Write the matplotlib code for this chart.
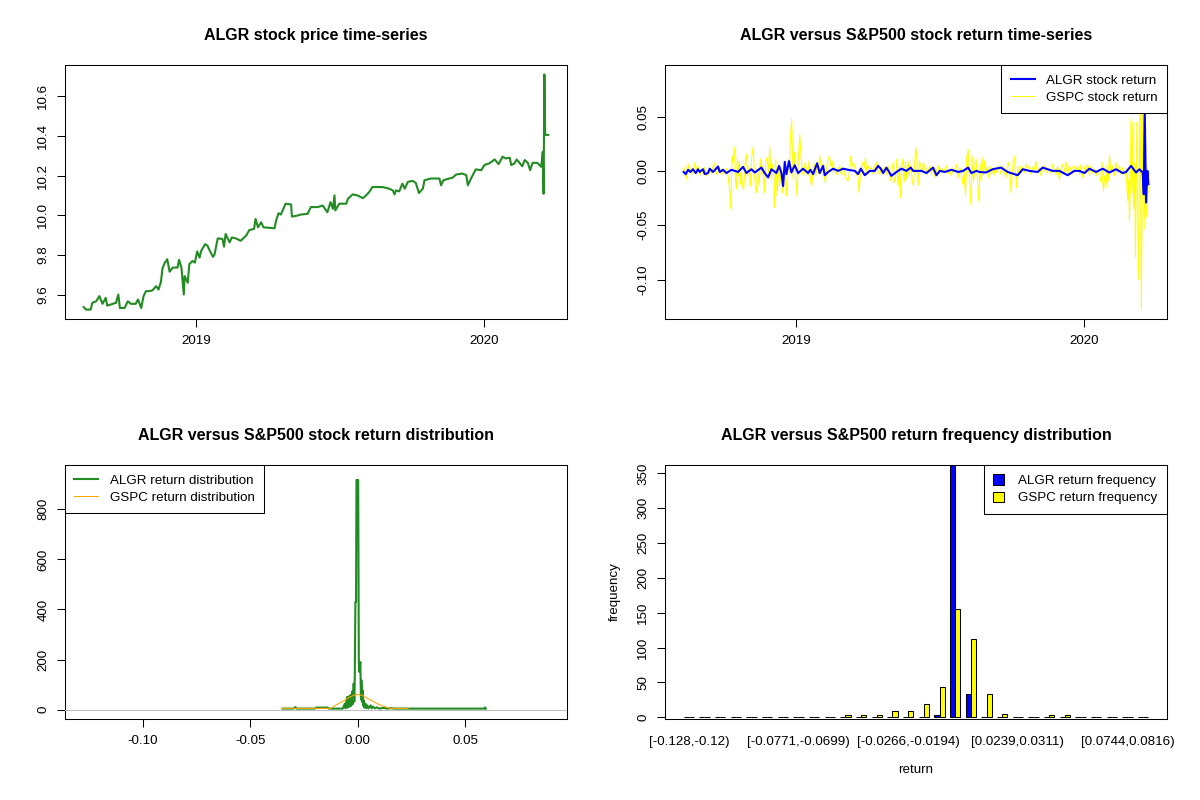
"""ALGR vs S&P500: price, returns, return densities and binned return frequencies (2x2 panel)."""
import matplotlib
matplotlib.use("Agg")
import matplotlib.pyplot as plt
import matplotlib.dates as mdates
import pandas as pd
from matplotlib.lines import Line2D
from matplotlib.patches import Patch
from matplotlib.ticker import FormatStrFormatter

plt.rcParams["font.family"] = ["Liberation Sans", "DejaVu Sans"]

START = pd.Timestamp("2018-08-11")   # day 0 of the series

# ---- ALGR closing price (days since START, price) ----
price_day = [
    0, 3, 9, 11, 16, 20, 24, 28, 30, 37,
    41, 44, 46, 52, 56, 60, 66, 69, 73, 76,
    79, 83, 87, 92, 95, 98, 100, 103, 106, 109,
    113, 119, 121, 124, 127, 128, 132, 134, 138, 141,
    144, 147, 149, 154, 157, 161, 164, 166, 170, 176,
    178, 180, 185, 188, 193, 199, 206, 210, 216, 218,
    221, 225, 228, 242, 244, 247, 250, 256, 263, 264,
    271, 275, 284, 288, 297, 303, 309, 311, 313, 316,
    318, 319, 324, 333, 335, 341, 347, 354, 358, 362,
    366, 379, 387, 392, 394, 396, 400, 404, 407, 411,
    417, 421, 425, 430, 432, 440, 451, 453, 456, 459,
    468, 472, 480, 485, 487, 491, 497, 504, 508, 514,
    521, 526, 531, 535, 540, 542, 546, 549, 553, 556,
    559, 563, 566, 569, 575, 580, 582, 583, 584, 585,
    589]
price = [
    9.537, 9.524, 9.524, 9.558, 9.566, 9.592, 9.553, 9.583, 9.544, 9.553,
    9.558, 9.600, 9.532, 9.532, 9.566, 9.553, 9.553, 9.575, 9.532, 9.592,
    9.617, 9.617, 9.620, 9.642, 9.625, 9.664, 9.732, 9.761, 9.778, 9.715,
    9.736, 9.736, 9.775, 9.736, 9.600, 9.693, 9.659, 9.753, 9.769, 9.761,
    9.817, 9.786, 9.820, 9.854, 9.846, 9.812, 9.790, 9.803, 9.883, 9.880,
    9.841, 9.905, 9.863, 9.888, 9.883, 9.871, 9.897, 9.925, 9.931, 9.981,
    9.939, 9.964, 9.939, 9.934, 9.973, 10.010, 10.003, 10.058, 10.054, 9.993,
    9.998, 10.003, 10.007, 10.041, 10.041, 10.049, 10.015, 10.041, 10.066, 10.032,
    10.100, 10.024, 10.058, 10.058, 10.083, 10.105, 10.100, 10.086, 10.100, 10.117,
    10.142, 10.142, 10.134, 10.125, 10.105, 10.125, 10.120, 10.159, 10.134, 10.168,
    10.173, 10.163, 10.112, 10.134, 10.176, 10.185, 10.185, 10.151, 10.176, 10.180,
    10.190, 10.205, 10.210, 10.202, 10.151, 10.185, 10.231, 10.227, 10.253, 10.261,
    10.281, 10.258, 10.295, 10.286, 10.290, 10.253, 10.261, 10.281, 10.261, 10.247,
    10.278, 10.264, 10.227, 10.264, 10.264, 10.244, 10.320, 10.108, 10.710, 10.405,
    10.405]

# ---- ALGR daily return (days since START, return) ----
algr_day = [
    0.0, 2.7, 5.7, 8.6, 12.0, 15.4, 18.3, 20.4, 24.7, 26.8,
    31.0, 33.1, 37.3, 43.7, 45.8, 50.0, 54.3, 60.6, 69.0, 75.4,
    79.6, 86.0, 90.2, 98.6, 102.8, 107.1, 111.3, 117.6, 121.0, 124.0,
    126.1, 128.2, 130.3, 133.7, 136.6, 140.9, 145.1, 151.4, 157.8, 160.7,
    164.1, 169.2, 172.5, 176.8, 178.9, 183.2, 189.5, 195.8, 202.2, 208.5,
    217.0, 221.2, 224.6, 229.6, 236.0, 242.3, 246.5, 249.9, 252.9, 257.1,
    263.4, 269.8, 276.1, 282.4, 287.9, 290.9, 301.4, 307.8, 316.2, 320.5,
    324.7, 331.0, 339.5, 348.0, 354.3, 360.6, 364.8, 371.2, 374.8, 383.3,
    391.7, 402.3, 410.7, 423.4, 429.8, 438.2, 448.8, 455.1, 467.8, 476.2,
    486.8, 495.2, 501.6, 508.0, 514.3, 522.7, 531.2, 539.6, 548.1, 556.5,
    560.8, 567.1, 573.5, 577.7, 581.9, 583.2, 584.4, 586.1, 587.8, 589.1]
algr_ret = [
    -0.0010, -0.0030, 0.0010, -0.0010, 0.0015, -0.0020, 0.0015, -0.0010, 0.0015, -0.0030,
    -0.0020, 0.0020, -0.0010, 0.0040, -0.0010, 0.0010, -0.0020, 0.0010, -0.0010, 0.0037,
    -0.0020, 0.0015, -0.0015, 0.0030, -0.0020, -0.0060, 0.0015, -0.0020, 0.0046, -0.0020,
    -0.0140, 0.0083, -0.0030, 0.0090, -0.0015, 0.0052, -0.0020, 0.0020, -0.0020, 0.0010,
    -0.0030, 0.0070, -0.0020, 0.0046, -0.0040, -0.0010, 0.0020, 0.0000, 0.0020, 0.0010,
    0.0000, -0.0030, 0.0020, -0.0040, 0.0000, 0.0000, 0.0046, 0.0020, -0.0020, 0.0030,
    -0.0046, -0.0010, 0.0020, 0.0000, 0.0030, 0.0000, 0.0000, -0.0020, 0.0030, -0.0040,
    0.0000, -0.0010, 0.0010, -0.0010, 0.0000, 0.0030, -0.0020, 0.0000, -0.0010, -0.0015,
    0.0015, 0.0030, -0.0010, -0.0040, 0.0015, 0.0000, -0.0010, 0.0030, 0.0000, 0.0000,
    -0.0040, 0.0000, 0.0000, -0.0020, 0.0020, -0.0010, 0.0020, -0.0015, 0.0015, -0.0020,
    -0.0010, 0.0046, -0.0015, 0.0015, -0.0015, -0.0215, 0.0584, -0.0292, 0.0000, -0.0123]

# ---- GSPC (S&P500) daily log return (days since START, return) ----
gspc_day = [
    0.0, 1.4, 3.5, 5.7, 7.8, 9.9, 12.0, 14.1, 16.2, 18.3,
    20.4, 22.6, 24.7, 26.8, 28.9, 31.0, 33.1, 35.2, 37.3, 39.5,
    41.6, 43.7, 45.8, 47.9, 50.0, 52.1, 54.3, 56.4, 58.5, 59.7,
    61.4, 62.7, 64.4, 65.7, 66.9, 68.2, 69.4, 70.7, 72.0, 73.3,
    74.5, 76.2, 77.9, 79.6, 81.3, 83.0, 84.7, 86.4, 88.0, 90.2,
    92.3, 94.0, 95.6, 97.3, 99.0, 100.7, 102.4, 104.1, 105.8, 107.5,
    109.2, 110.9, 112.5, 114.2, 115.5, 116.8, 118.5, 120.1, 121.8, 123.5,
    125.2, 126.9, 128.6, 130.3, 132.0, 133.7, 135.3, 137.0, 138.7, 140.4,
    142.1, 143.8, 145.5, 147.2, 148.9, 150.6, 152.2, 153.9, 155.6, 157.3,
    159.0, 160.7, 162.4, 164.1, 165.8, 167.5, 169.2, 170.9, 172.5, 174.2,
    176.8, 178.1, 179.8, 181.5, 183.2, 184.8, 186.5, 188.2, 189.9, 191.6,
    193.7, 195.8, 197.9, 200.0, 202.2, 204.3, 206.4, 208.5, 210.6, 211.9,
    213.6, 215.3, 217.0, 219.1, 221.2, 222.4, 223.7, 225.4, 227.1, 228.8,
    230.5, 232.2, 233.8, 236.0, 238.1, 240.2, 242.3, 244.4, 246.5, 248.6,
    250.7, 252.9, 255.0, 257.1, 259.2, 261.3, 262.6, 264.3, 265.5, 266.8,
    268.5, 270.2, 271.9, 273.6, 274.8, 276.1, 277.8, 279.5, 281.2, 282.9,
    284.5, 286.2, 287.9, 289.6, 291.3, 293.0, 294.3, 295.5, 297.2, 298.9,
    300.6, 302.3, 304.0, 305.7, 307.4, 309.0, 310.7, 312.4, 314.1, 315.8,
    317.5, 319.2, 320.9, 322.6, 324.7, 326.8, 328.9, 331.0, 333.1, 335.2,
    337.4, 339.5, 341.6, 343.7, 345.8, 347.9, 350.0, 352.1, 353.8, 355.5,
    357.2, 358.9, 360.6, 362.3, 364.0, 365.7, 367.3, 369.0, 370.7, 372.4,
    374.1, 375.8,
    376.5, 378.2, 379.9, 381.6, 383.3, 385.0, 386.7, 388.3, 390.0, 391.7,
    393.4, 395.1, 396.8, 398.5, 400.2, 401.9, 403.6, 405.2, 406.9, 408.6,
    410.3, 412.0, 413.7, 415.0, 416.2, 417.9, 419.2, 420.5, 422.1, 423.4,
    424.7, 426.4, 428.1, 429.8, 431.9, 434.0, 436.1, 438.2, 440.3, 442.4,
    444.5, 446.6, 448.8, 450.9, 453.0, 455.1, 457.2, 459.3, 461.4, 463.5,
    465.7, 467.8, 469.9, 472.0, 474.1, 476.2, 478.3, 480.4, 482.6, 484.7,
    486.8, 488.9, 491.0, 493.1, 495.2, 497.3,
    499.5, 501.6, 503.7, 505.9, 508.0, 510.1, 512.2, 514.3, 516.4, 518.5,
    520.6, 522.7, 524.9, 527.0, 529.1, 530.4, 532.0, 533.7, 535.4, 536.7,
    538.4, 539.6, 541.8, 543.9, 546.0, 548.1, 550.2, 552.3, 554.4, 556.5,
    558.7, 560.8, 562.9, 564.2, 565.0, 566.3, 567.1, 568.4, 569.2, 570.5,
    571.8, 572.6, 574.3, 575.6, 576.8, 578.5, 580.2, 581.9, 583.6, 584.9,
    586.1, 587.8, 589.1]
gspc_ret = [
    0.0000, 0.0031, -0.0077, 0.0062, -0.0015, 0.0031, -0.0031, 0.0071, 0.0015, 0.0046,
    -0.0046, 0.0015, -0.0022, 0.0031, -0.0046, 0.0000, 0.0022, -0.0031, 0.0046, 0.0071,
    -0.0031, 0.0015, 0.0031, -0.0040, 0.0015, -0.0022, 0.0022, -0.0046, -0.0185, -0.0347,
    0.0138, 0.0077, 0.0215, -0.0077, -0.0169, 0.0123, -0.0046, 0.0092, -0.0123, -0.0015,
    -0.0138, -0.0169, 0.0062, 0.0154, -0.0046, 0.0046, -0.0138, 0.0123, 0.0215, -0.0077,
    -0.0200, 0.0015, -0.0138, 0.0108, -0.0046, 0.0046, -0.0200, 0.0077, 0.0123, -0.0015,
    0.0221, -0.0077, 0.0062, -0.0022, -0.0338, 0.0108, -0.0231, 0.0046, -0.0138, -0.0015,
    -0.0200, -0.0138, 0.0015, -0.0231, 0.0108, -0.0031, 0.0292, 0.0477, -0.0077, 0.0169,
    -0.0046, -0.0231, 0.0108, 0.0338, 0.0123, -0.0015, -0.0046, 0.0077, 0.0015, -0.0046,
    0.0092, -0.0077, -0.0138, 0.0015, 0.0062, -0.0046, 0.0046, -0.0015, 0.0138, 0.0046,
    0.0062, -0.0046, -0.0108, 0.0046, 0.0108, 0.0138, 0.0046, 0.0092, -0.0015, 0.0031,
    -0.0031, 0.0015, 0.0046, -0.0040, 0.0031, -0.0046, -0.0077, -0.0092, 0.0015, 0.0138,
    0.0046, 0.0077, 0.0031, -0.0031, -0.0062, -0.0200, -0.0062, 0.0046, 0.0077, 0.0015,
    0.0123, -0.0015, 0.0046, 0.0015, 0.0031, -0.0031, 0.0046, 0.0077, -0.0015, -0.0031,
    0.0031, 0.0000, 0.0031, -0.0031, 0.0046, -0.0046, -0.0092, 0.0015, 0.0077, -0.0108,
    -0.0046, 0.0108, -0.0138, 0.0046, -0.0246, 0.0015, 0.0108, -0.0108, 0.0077, -0.0077,
    0.0092, -0.0046, 0.0046, -0.0077, -0.0138, 0.0077, 0.0215, 0.0138, -0.0138, 0.0092,
    0.0046, -0.0015, 0.0077, 0.0031, -0.0031, 0.0031, 0.0015, 0.0046, -0.0031, 0.0031,
    -0.0031, -0.0062, 0.0015, 0.0046, -0.0009, 0.0031, -0.0015, 0.0015, 0.0046, -0.0031,
    0.0015, -0.0046, 0.0031, 0.0000, 0.0062, -0.0062, 0.0031, -0.0015, -0.0123, 0.0000,
    -0.0231, 0.0123, 0.0200, -0.0077, -0.0308, 0.0138, -0.0108, 0.0015, 0.0108, -0.0077,
    -0.0277, 0.0062,
    -0.0092, 0.0123, -0.0046, 0.0092, -0.0015, 0.0046, -0.0062, 0.0046, -0.0031, 0.0015,
    -0.0040, 0.0031, -0.0015, 0.0015, 0.0046, -0.0031, 0.0015, 0.0046, -0.0015, -0.0062,
    0.0046, 0.0077, -0.0015, -0.0200, -0.0046, 0.0092, 0.0132, 0.0000, -0.0154, 0.0046,
    -0.0046, 0.0046, 0.0000, 0.0031, -0.0015, 0.0062, 0.0015, 0.0046, -0.0031, 0.0031,
    0.0015, 0.0083, -0.0015, 0.0031, -0.0046, 0.0015, 0.0046, -0.0015, 0.0031, 0.0015,
    -0.0022, 0.0062, 0.0000, -0.0031, 0.0046, -0.0083, 0.0015, 0.0062, -0.0009, 0.0083,
    -0.0031, 0.0046, 0.0000, 0.0031, 0.0046, 0.0000,
    0.0046, -0.0031, 0.0062, -0.0062, 0.0046, -0.0015, 0.0062, -0.0046, 0.0046, -0.0015,
    0.0015, -0.0046, 0.0000, -0.0031, -0.0108, 0.0077, -0.0185, -0.0046, -0.0154, 0.0046,
    -0.0092, 0.0145, -0.0015, 0.0046, -0.0046, 0.0077, -0.0015, 0.0046, -0.0031, 0.0031,
    -0.0031, 0.0015, -0.0277, -0.0077, -0.0461, -0.0108, 0.0477, -0.0200, 0.0446, -0.0354,
    0.0077, -0.0790, 0.0446, -0.0501, -0.0999, 0.0888, -0.1277, 0.0584, -0.0538, 0.0015,
    -0.0431, -0.0292, -0.0138]

# ---- kernel densities of the returns ----
algr_dens_x = [
    -0.0350, -0.0300, -0.0290, -0.0285, -0.0200, -0.0195, -0.0140, -0.0135, -0.0070, -0.0060,
    -0.0057, -0.0050, -0.0047, -0.0042, -0.0038, -0.0034, -0.0030, -0.0026, -0.0023, -0.0019,
    -0.0016, -0.0014, -0.0011, -0.0008, -0.0006, 0.0002, 0.0005, 0.0008, 0.0012, 0.0015,
    0.0017, 0.0020, 0.0023, 0.0026, 0.0028, 0.0031, 0.0036, 0.0040, 0.0044, 0.0050,
    0.0060, 0.0065, 0.0070, 0.0080, 0.0090, 0.0100, 0.0120, 0.0140, 0.0155, 0.0170,
    0.0590, 0.0593, 0.0596]
algr_dens_y = [
    4, 4, 10, 4, 4, 8, 8, 4, 4, 24,
    5, 50, 8, 52, 12, 58, 16, 72, 22, 104,
    32, 124, 430, 430, 917, 917, 190, 150, 190, 40,
    117, 30, 77, 15, 37, 8, 24, 6, 17, 5,
    17, 5, 12, 5, 9, 4, 7, 4, 6, 4,
    4, 9, 4]
gspc_dens_x = [-0.0350, -0.0126, -0.0112, -0.0089, -0.0065, -0.0042, -0.0019, 0.0000,
               0.0020, 0.0044, 0.0067, 0.0090, 0.0121, 0.0145, 0.0160, 0.0234]
gspc_dens_y = [5, 5, 13, 24, 35, 48, 57, 61, 57, 45, 35, 24, 13, 6, 5, 5]

# ---- binned return frequencies (30 equal-width bins) ----
bin_labels = [
    "[-0.128,-0.12)", "[-0.12,-0.113)", "[-0.113,-0.106)", "[-0.106,-0.0988)",
    "[-0.0988,-0.0916)", "[-0.0916,-0.0844)", "[-0.0844,-0.0771)", "[-0.0771,-0.0699)",
    "[-0.0699,-0.0627)", "[-0.0627,-0.0555)", "[-0.0555,-0.0483)", "[-0.0483,-0.0411)",
    "[-0.0411,-0.0339)", "[-0.0339,-0.0266)", "[-0.0266,-0.0194)", "[-0.0194,-0.0122)",
    "[-0.0122,-0.005)", "[-0.005,0.00222)", "[0.00222,0.00943)", "[0.00943,0.0166)",
    "[0.0166,0.0239)", "[0.0239,0.0311)", "[0.0311,0.0383)", "[0.0383,0.0455)",
    "[0.0455,0.0527)", "[0.0527,0.0599)", "[0.0599,0.0672)", "[0.0672,0.0744)",
    "[0.0744,0.0816)", "[0.0816,0.0888]"]
algr_freq = [0, 0, 0, 0, 0, 0, 0, 0, 0, 0,
             0, 0, 0, 1, 1, 1, 3, 367, 33, 1,
             0, 0, 0, 0, 0, 1, 0, 0, 0, 0]
gspc_freq = [1, 0, 0, 1, 0, 0, 1, 0, 0, 0,
             3, 3, 3, 9, 9, 19, 43, 155, 113, 34,
             5, 0, 1, 3, 3, 1, 0, 0, 0, 1]

GREEN, BLUE, YELLOW, ORANGE, GREY = "#228B22", "#0000FF", "#FFFF00", "#FFA500", "#BEBEBE"
FS = 9.6
TITLE_FS = 11.5


def r_range(lo, hi):
    pad = 0.04 * (hi - lo)
    return lo - pad, hi + pad


def base_style(ax):
    for s in ax.spines.values():
        s.set_linewidth(0.75)
    ax.tick_params(length=5.8, width=0.75, labelsize=FS, colors="black")
    ax.tick_params(axis="x", pad=6)
    ax.tick_params(axis="y", pad=5.5, labelrotation=90)
    for lab in ax.get_yticklabels():
        lab.set_verticalalignment("center")


def legend(ax, handles, labels, loc, **kw):
    opts = dict(handlelength=1.8, handletextpad=0.85)
    opts.update(kw)
    leg = ax.legend(handles, labels, loc=loc, borderaxespad=0, fontsize=FS,
                    frameon=True, fancybox=False, framealpha=1, edgecolor="black",
                    borderpad=0.7, labelspacing=0.35, **opts)
    leg.get_frame().set_linewidth(0.75)
    return leg


fig = plt.figure(figsize=(12, 8), dpi=100)
W, H = 502 / 1200, 254 / 800
ax1 = fig.add_axes([65 / 1200, 1 - 319 / 800, W, H])
ax2 = fig.add_axes([665 / 1200, 1 - 319 / 800, W, H])
ax3 = fig.add_axes([65 / 1200, 1 - 719 / 800, W, H])
ax4 = fig.add_axes([665 / 1200, 1 - 719 / 800, W, H])

price_dates = START + pd.to_timedelta(price_day, unit="D")
algr_dates = START + pd.to_timedelta(algr_day, unit="D")
gspc_dates = START + pd.to_timedelta(gspc_day, unit="D")
year_ticks = [pd.Timestamp("2019-01-01"), pd.Timestamp("2020-01-01")]
xlo, xhi = r_range(mdates.date2num(gspc_dates.min()), mdates.date2num(gspc_dates.max()))

# panel 1: price
ax1.plot(price_dates, price, color=GREEN, lw=1.5)
ax1.set_xlim(xlo, xhi)
ax1.set_ylim(*r_range(min(price), max(price)))
ax1.set_xticks(year_ticks)
ax1.xaxis.set_major_formatter(mdates.DateFormatter("%Y"))
ax1.set_yticks([9.6, 9.8, 10.0, 10.2, 10.4, 10.6])
ax1.yaxis.set_major_formatter(FormatStrFormatter("%.1f"))
ax1.set_title("ALGR stock price time-series", fontsize=TITLE_FS, fontweight="bold", pad=18)
base_style(ax1)

# panel 2: returns
ax2.plot(gspc_dates, gspc_ret, color=YELLOW, lw=0.75, zorder=2)
ax2.plot(algr_dates, algr_ret, color=BLUE, lw=1.5, zorder=3)
ax2.set_xlim(xlo, xhi)
ax2.set_ylim(*r_range(min(gspc_ret), max(gspc_ret)))
ax2.set_xticks(year_ticks)
ax2.xaxis.set_major_formatter(mdates.DateFormatter("%Y"))
ax2.set_yticks([-0.10, -0.05, 0.0, 0.05])
ax2.yaxis.set_major_formatter(FormatStrFormatter("%.2f"))
ax2.set_title("ALGR versus S&P500 stock return time-series", fontsize=TITLE_FS,
              fontweight="bold", pad=18)
legend(ax2, [Line2D([], [], color=BLUE, lw=1.5), Line2D([], [], color=YELLOW, lw=0.75)],
       ["ALGR stock return", "GSPC stock return"], "upper right")
base_style(ax2)

# panel 3: densities
ax3.plot(algr_dens_x, algr_dens_y, color=GREEN, lw=1.5, zorder=2)
ax3.axhline(0, color=GREY, lw=0.75, zorder=3)
ax3.plot(gspc_dens_x, gspc_dens_y, color=ORANGE, lw=0.75, zorder=4)
ax3.set_xlim(*r_range(min(gspc_ret), max(gspc_ret)))
ax3.set_ylim(-37.5, 977)
ax3.set_xticks([-0.10, -0.05, 0.0, 0.05])
ax3.xaxis.set_major_formatter(FormatStrFormatter("%.2f"))
ax3.set_yticks([0, 200, 400, 600, 800])
ax3.set_title("ALGR versus S&P500 stock return distribution", fontsize=TITLE_FS,
              fontweight="bold", pad=18)
legend(ax3, [Line2D([], [], color=GREEN, lw=1.5), Line2D([], [], color=ORANGE, lw=0.75)],
       ["ALGR return distribution", "GSPC return distribution"], "upper left")
base_style(ax3)

# panel 4: grouped frequency bars (R barplot beside=TRUE layout)
n = len(bin_labels)
grp = [3 * i for i in range(n)]
ax4.bar([g + 1 for g in grp], algr_freq, width=1, align="edge", color=BLUE,
        edgecolor="black", linewidth=0.75)
ax4.bar([g + 2 for g in grp], gspc_freq, width=1, align="edge", color=YELLOW,
        edgecolor="black", linewidth=0.75)
ax4.set_xlim(*r_range(1, 3 * n))
ax4.set_ylim(-2.4, 362)
shown = list(range(0, n, 7))
ax4.set_xticks([grp[i] + 2 for i in shown])
ax4.set_xticklabels([bin_labels[i] for i in shown])
ax4.set_yticks(range(0, 351, 50))
ax4.set_xlabel("return", fontsize=FS, labelpad=12)
ax4.set_ylabel("frequency", fontsize=FS, labelpad=12)
ax4.set_title("ALGR versus S&P500 return frequency distribution", fontsize=TITLE_FS,
              fontweight="bold", pad=18)
legend(ax4, [Patch(facecolor=BLUE, edgecolor="black", lw=0.75),
             Patch(facecolor=YELLOW, edgecolor="black", lw=0.75)],
       ["ALGR return frequency", "GSPC return frequency"], "upper right",
       handlelength=0.8, handleheight=0.8, handletextpad=1.1)
base_style(ax4)
ax4.tick_params(axis="x", length=0, pad=12)

fig.savefig("out.png", dpi=100)
print("wrote out.png")
